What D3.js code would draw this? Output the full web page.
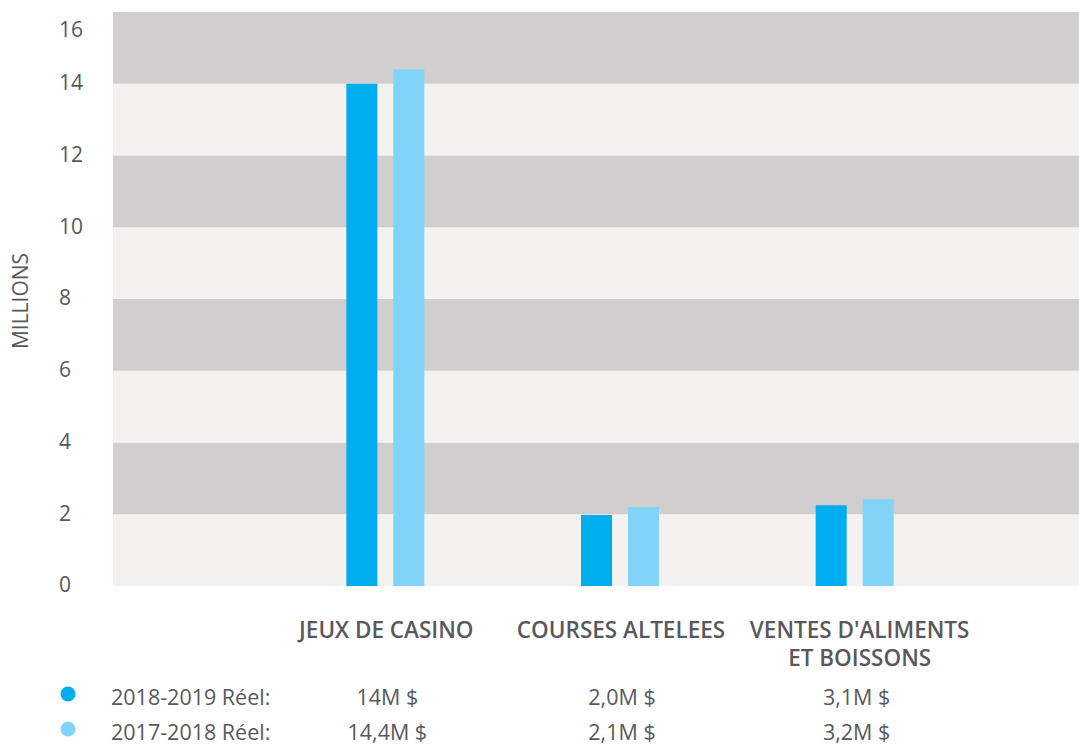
<!DOCTYPE html>
<html>
<head>
<meta charset="utf-8">
<script src="https://cdn.jsdelivr.net/npm/d3@7/dist/d3.min.js"></script>
<style>
  body { margin: 0; background: #fff; }
  svg text { font-family: "Open Sans", Lato, sans-serif; fill: #58595b; }
  .tick-label { font-size: 21px; }
  .cat-label { font-size: 22.5px; font-weight: 600; }
  .val-label { font-size: 21.5px; }
  .legend-label { font-size: 21.5px; }
  .axis-title { font-size: 21px; }
</style>
</head>
<body>
<div id="chart"></div>
<script>
const categories = ['JEUX DE CASINO', 'COURSES ALTELEES', "VENTES D'ALIMENTS|ET BOISSONS"];
const seriesNames = ['2018-2019 Réel:', '2017-2018 Réel:'];
const values2019 = [14.0, 1.98, 2.25];
const values2018 = [14.4, 2.2, 2.42];
const labels2019 = ['14M $', '2,0M $', '3,1M $'];
const labels2018 = ['14,4M $', '2,1M $', '3,2M $'];
const yTicks = [0, 2, 4, 6, 8, 10, 12, 14, 16];

const colors = ['#00aeef', '#82d3f8'];
const bandDark = '#d0cecf';
const bandLight = '#f3f2f1';

const width = 1079;
const height = 747;
const plot = {left: 113, right: 1079, top: 12, bottom: 586};

const svg = d3.select('#chart')
              .append('svg')
              .attr('width', width)
              .attr('height', height);

const y = d3.scaleLinear()
            .domain([0, 16])
            .range([plot.bottom, plot.top]);

// category groups sit right of the plot's left edge
const x0 = d3.scaleBand()
             .domain(categories)
             .range([268, 972]);

const x1 = d3.scaleBand()
             .domain(seriesNames)
             .range([x0.step() / 2 - 39, x0.step() / 2 + 39])
             .paddingInner(0.34);

// alternating background bands, dark on top
for (let i = 0; i < yTicks.length - 1; i++) {
  let lo = yTicks[i];
  let hi = yTicks[i + 1];
  svg.append('rect')
     .attr('x', plot.left)
     .attr('y', y(hi))
     .attr('width', plot.right - plot.left)
     .attr('height', y(lo) - y(hi))
     .attr('fill', i % 2 === 0 ? bandLight : bandDark);
}

// y tick labels (top one nudged down to stay inside)
svg.append('g')
   .selectAll('text')
   .data(yTicks)
   .enter()
   .append('text')
   .attr('class', 'tick-label')
   .attr('x', 59)
   .attr('y', (d) => d === 16 ? y(d) + 18 : y(d) - 1)
   .attr('dy', '0.35em')
   .text((d) => d);

svg.append('text')
   .attr('class', 'axis-title')
   .attr('transform', 'translate(28,' + 301 + ') rotate(-90)')
   .attr('text-anchor', 'middle')
   .text('MILLIONS');

// bars
const seriesValues = [values2019, values2018];
const groups = svg.selectAll('g.cat')
                  .data(categories)
                  .enter()
                  .append('g')
                  .attr('class', 'cat')
                  .attr('transform', (d) => 'translate(' + x0(d) + ',0)');

groups.selectAll('rect')
      .data((d, i) => seriesNames.map((s, j) => ({s: s, v: seriesValues[j][i], j: j})))
      .enter()
      .append('rect')
      .attr('x', (d) => x1(d.s))
      .attr('y', (d) => y(d.v))
      .attr('width', x1.bandwidth())
      .attr('height', (d) => y(0) - y(d.v))
      .attr('fill', (d) => colors[d.j]);

// category labels (may wrap to two lines)
groups.each(function(d) {
  let parts = d.split('|');
  let g = d3.select(this);
  parts.forEach((p, k) => {
    g.append('text')
     .attr('class', 'cat-label')
     .attr('text-anchor', 'middle')
     .attr('x', x0.step() / 2 + (parts.length > 1 ? 5 : 1))
     .attr('y', 638 + k * 28)
     .text(p);
  });
});

// value rows
const valueLabels = [labels2019, labels2018];
const rowY = [705, 740];
valueLabels.forEach((labels, j) => {
  groups.append('text')
        .attr('class', 'val-label')
        .attr('text-anchor', 'middle')
        .attr('x', x0.step() / 2 + 2)
        .attr('y', rowY[j])
        .text((d, i) => labels[i]);
});

// legend
seriesNames.forEach((name, j) => {
  svg.append('circle')
     .attr('cx', 68)
     .attr('cy', rowY[j] - 11)
     .attr('r', 7.5)
     .attr('fill', colors[j]);
  svg.append('text')
     .attr('class', 'legend-label')
     .attr('x', 111)
     .attr('y', rowY[j])
     .text(name);
});
</script>
</body>
</html>
